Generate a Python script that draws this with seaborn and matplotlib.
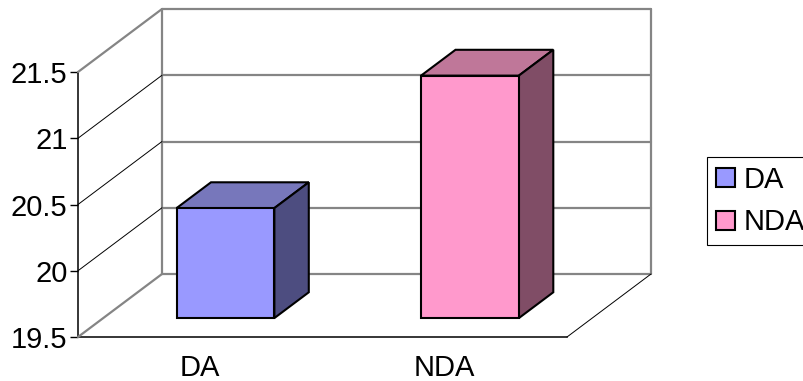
import numpy as np
import pandas as pd
import matplotlib
matplotlib.use("Agg")
import matplotlib.pyplot as plt
import seaborn as sns
from matplotlib.patches import Polygon, Patch
from matplotlib.lines import Line2D
from matplotlib.transforms import IdentityTransform, ScaledTranslation

# ---- data ----
categories = ["DA", "NDA"]
values = [20.33, 21.33]
y_ticks = [19.5, 20.0, 20.5, 21.0, 21.5]
y_tick_labels = ["19.5", "20", "20.5", "21", "21.5"]

# ---- styles ----
front_colors = ["#9999FF", "#FF99CC"]
top_colors = ["#7777BB", "#BF7799"]
side_colors = ["#4D4D80", "#804D66"]
GRAY = "#858585"
FS = 21

sns.set_theme(style="white")
plt.rcParams["font.family"] = ["Liberation Sans", "DejaVu Sans"]
plt.rcParams["text.color"] = "black"

W, H, DPI = 804, 381, 100
fig = plt.figure(figsize=(W / DPI, H / DPI), dpi=DPI)
fig.patch.set_facecolor("white")

# front plane of the 3D box in pixels (from bottom-left)
L, R, B, T = 78, 567, 44, 309
DEPTH = np.array([84.0, 63.0])   # px offset of the back wall
BAR_D0, BAR_D1 = 0.30, 0.71     # bar depth span (fraction of box depth)


def rect(dx=0.0, dy=0.0):
    return [(L + dx) / W, (B + dy) / H, (R - L) / W, (T - B) / H]


xlim = (-0.5, len(categories) - 0.5)
ylim = (y_ticks[0], y_ticks[-1])

# ---- main (front) axes ----
ax = fig.add_axes(rect())
ax.set_xlim(xlim)
ax.set_ylim(ylim)
ax.patch.set_visible(False)
for s in ["top", "right"]:
    ax.spines[s].set_visible(False)
for s in ["left", "bottom"]:
    ax.spines[s].set_color("black")
    ax.spines[s].set_linewidth(1.1)

ax.set_yticks(y_ticks, y_tick_labels)
ax.set_xticks(range(len(categories)), categories)
ax.set_xticks(np.arange(len(categories) + 1) - 0.5, minor=True)
ax.tick_params(axis="x", which="major", length=0, pad=12, labelsize=FS, labelcolor="black")
ax.tick_params(axis="x", which="minor", length=4, width=1, color="black", direction="out")
ax.tick_params(axis="y", length=6, width=1, color="black", direction="out", pad=1.5,
               labelsize=FS, labelcolor="black", left=True)

# back wall (offset transform)
back = ax.transData + ScaledTranslation(DEPTH[0] / DPI, DEPTH[1] / DPI, fig.dpi_scale_trans)
for y in y_ticks:
    ax.plot(xlim, [y, y], color=GRAY, lw=1.6, transform=back, clip_on=False, zorder=0.5)
for x in xlim:
    ax.plot([x, x], ylim, color=GRAY, lw=1.6, transform=back, clip_on=False, zorder=0.5)


def px(a, x, y):
    return np.asarray(a.transData.transform((x, y)))


# left wall diagonals
for i, y in enumerate(y_ticks):
    p0 = px(ax, xlim[0], y)
    p1 = p0 + DEPTH
    edge = i in (0, len(y_ticks) - 1)
    fig.add_artist(Line2D([p0[0], p1[0]], [p0[1], p1[1]],
                          color=GRAY if edge else "black", lw=1.6 if edge else 0.7,
                          transform=IdentityTransform(), zorder=0.6))
# floor right diagonal
p0 = px(ax, xlim[1], ylim[0])
p1 = p0 + DEPTH
fig.add_artist(Line2D([p0[0], p1[0]], [p0[1], p1[1]], color="black", lw=0.7,
                      transform=IdentityTransform(), zorder=0.6))

# ---- bars (drawn in the bar's depth plane) ----
ax_bar = fig.add_axes(rect(*(DEPTH * BAR_D0)))
df = pd.DataFrame({"category": categories, "value": values})
sns.barplot(data=df, x="category", y="value", hue="category", palette=front_colors,
            width=0.4, saturation=1, edgecolor="black", linewidth=1.5,
            ax=ax_bar, legend=False)
ax_bar.patch.set_visible(False)
ax_bar.set_xlim(xlim)
ax_bar.set_ylim(ylim)
ax_bar.axis("off")

d = DEPTH * (BAR_D1 - BAR_D0)
for i, p in enumerate(ax_bar.patches):
    h = p.get_height()
    p.set_y(ylim[0])
    p.set_height(h - ylim[0])
    p.set_clip_on(False)
    p.set_joinstyle("miter")
    x0, x1 = p.get_x(), p.get_x() + p.get_width()
    y0, y1 = p.get_y(), p.get_y() + p.get_height()
    tl, tr, br = px(ax_bar, x0, y1), px(ax_bar, x1, y1), px(ax_bar, x1, y0)
    top = Polygon([tl, tr, tr + d, tl + d], closed=True, facecolor=top_colors[i],
                  edgecolor="black", lw=1.5, joinstyle="miter",
                  transform=IdentityTransform(), clip_on=False, zorder=p.get_zorder() - 0.1)
    side = Polygon([tr, br, br + d, tr + d], closed=True, facecolor=side_colors[i],
                   edgecolor="black", lw=1.5, joinstyle="miter",
                   transform=IdentityTransform(), clip_on=False, zorder=p.get_zorder() - 0.1)
    ax_bar.add_artist(top)
    ax_bar.add_artist(side)

# ---- legend ----
handles = [Patch(facecolor=c, edgecolor="black", lw=1.5, label=cat)
           for c, cat in zip(front_colors, categories)]
leg = fig.legend(handles=handles, loc="upper left", bbox_to_anchor=(707 / W, 1 - 157 / H),
                 bbox_transform=fig.transFigure, fontsize=FS, frameon=True, fancybox=False,
                 edgecolor="black", framealpha=1, handlelength=0.65, handleheight=0.62,
                 handletextpad=0.3, labelspacing=0.5, borderpad=0.3, borderaxespad=0,
                 labelcolor="black")
leg.get_frame().set_linewidth(0.8)

fig.savefig("out.png", dpi=DPI, facecolor="white")
